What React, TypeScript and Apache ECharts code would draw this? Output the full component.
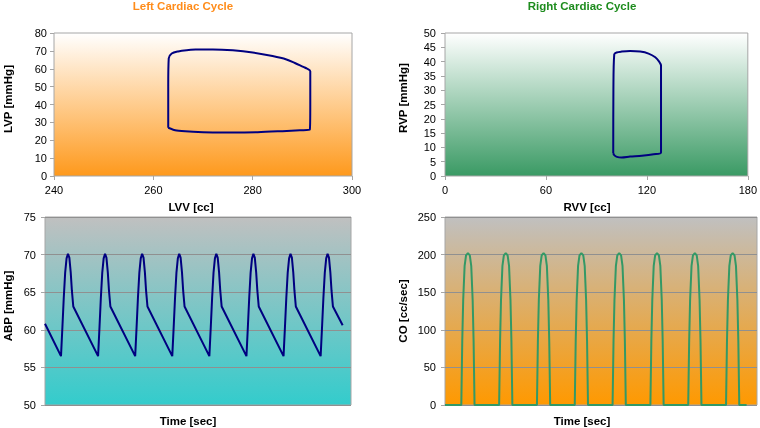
import React, { useEffect, useRef } from "react";
import * as echarts from "echarts";

// ---- Left ventricle pressure-volume loop ----
const lvVolume = [263.0, 264.7, 268, 272, 276, 281, 286, 289.5, 291.5, 291.6, 291.6, 291.0, 290.2, 288.5, 286.8, 284, 280, 276, 272, 268.5, 266.7, 265, 263.7, 263.1, 263.0, 263.0];
const lvPressure = [27.0, 25.4, 24.8, 24.4, 24.3, 24.5, 25.1, 25.6, 25.9, 40.0, 58.6, 60.0, 61.0, 63.2, 65.2, 67.1, 69.1, 70.3, 70.8, 70.7, 70.4, 69.7, 68.5, 65.8, 50.0, 27.0];

// ---- Right ventricle pressure-volume loop ----
const rvVolume = [100.0, 100.1, 100.6, 102.0, 105, 110, 116, 121, 125, 127.3, 128.4, 128.4, 128.4, 124, 117, 110, 105, 102.2, 100.6, 100.0];
const rvPressure = [8.0, 30.0, 42.5, 43.2, 43.5, 43.7, 43.5, 42.8, 41.5, 40.0, 38.6, 24.0, 8.2, 7.6, 7.1, 6.8, 6.5, 6.7, 7.3, 8.0];

// ---- Beat onsets (s) ----
const beatOnsets = [0.345, 1.145, 1.945, 2.745, 3.545, 4.345, 5.145, 5.945];

// ---- Arterial blood pressure: one beat ----
const abpStart = [0, 60.8];
const abpBeatTime = [0, 0.03, 0.06, 0.09, 0.12, 0.15, 0.18, 0.21, 0.235, 0.265];
const abpBeatValue = [56.5, 60.3, 64.3, 67.6, 69.5, 70.1, 69.6, 67.6, 65.2, 63.1];
const abpEnd = [6.42, 60.6];

// ---- Cardiac output (flow): one beat ----
const coStart = [0, 0];
const coBeatTime = [0, 0.02, 0.04, 0.07, 0.1, 0.14, 0.18, 0.21, 0.24, 0.26, 0.28];
const coBeatValue = [0, 85, 140, 185, 199, 202, 199, 185, 140, 85, 0];
const coEnd = [6.38, 0];

const FONT = "'Liberation Sans', Arial, sans-serif";

function buildTrace(start: number[], times: number[], values: number[], end: number[]) {
  const out: number[][] = [start];
  beatOnsets.forEach((t0) => {
    times.forEach((dt, i) => out.push([t0 + dt, values[i]]));
  });
  out.push(end);
  return out;
}

export default function App() {
  const ref = useRef<HTMLDivElement>(null);

  useEffect(() => {
    if (!ref.current) return;
    const chart = echarts.init(ref.current, null, { renderer: "svg" });

    const lvData = lvVolume.map((v, i) => [v, lvPressure[i]]);
    const rvData = rvVolume.map((v, i) => [v, rvPressure[i]]);
    const abpData = buildTrace(abpStart, abpBeatTime, abpBeatValue, abpEnd);
    const coData = buildTrace(coStart, coBeatTime, coBeatValue, coEnd);

    const grad = (top: string, bottom: string) =>
      new echarts.graphic.LinearGradient(0, 0, 0, 1, [
        { offset: 0, color: top },
        { offset: 1, color: bottom },
      ]);

    const gridBase = { show: true, borderColor: "#a6a6a6", borderWidth: 1 };
    const label = { fontSize: 11, color: "#000", fontFamily: FONT };
    const tick = { show: true, length: 4, lineStyle: { color: "#a6a6a6" } };
    const split = { show: true, lineStyle: { color: "#909090", width: 1 } };

    const nameText = (text: string, x: number, y: number, rotate = false, color = "#000") => ({
      type: "text",
      x,
      y,
      rotation: rotate ? Math.PI / 2 : 0,
      style: {
        text,
        fill: color,
        font: `bold 11.5px ${FONT}`,
        textAlign: "center",
        textVerticalAlign: "middle",
      },
    });

    chart.setOption({
      animation: false,
      textStyle: { fontFamily: FONT },
      grid: [
        { ...gridBase, left: 54, top: 33, width: 298, height: 143, backgroundColor: grad("#ffffff", "#fe991c") },
        { ...gridBase, left: 445, top: 33, width: 306, height: 143, backgroundColor: grad("#ffffff", "#3a9a64") },
        { ...gridBase, left: 45, top: 217, width: 306, height: 188, backgroundColor: grad("#c0c0c0", "#33cccc") },
        { ...gridBase, left: 445, top: 217, width: 312, height: 188, backgroundColor: grad("#c0c0c0", "#ff9900") },
      ],
      xAxis: [
        { gridIndex: 0, type: "value", min: 240, max: 300, interval: 20, axisLine: { show: false }, axisTick: tick, axisLabel: { ...label, margin: 8 }, splitLine: { show: false } },
        { gridIndex: 1, type: "value", min: 0, max: 180, interval: 60, axisLine: { show: false }, axisTick: tick, axisLabel: { ...label, margin: 8 }, splitLine: { show: false } },
        { gridIndex: 2, type: "value", min: 0, max: 6.6, axisLine: { show: false }, axisTick: { show: false }, axisLabel: { show: false }, splitLine: { show: false } },
        { gridIndex: 3, type: "value", min: 0, max: 6.6, axisLine: { show: false }, axisTick: { show: false }, axisLabel: { show: false }, splitLine: { show: false } },
      ],
      yAxis: [
        { gridIndex: 0, type: "value", min: 0, max: 80, interval: 10, axisLine: { show: false }, axisTick: tick, axisLabel: { ...label, margin: 7 }, splitLine: { show: false } },
        { gridIndex: 1, type: "value", min: 0, max: 50, interval: 5, axisLine: { show: false }, axisTick: tick, axisLabel: { ...label, margin: 9 }, splitLine: { show: false } },
        { gridIndex: 2, type: "value", min: 50, max: 75, interval: 5, axisLine: { show: false }, axisTick: tick, axisLabel: { ...label, margin: 9 }, splitLine: split },
        { gridIndex: 3, type: "value", min: 0, max: 250, interval: 50, axisLine: { show: false }, axisTick: tick, axisLabel: { ...label, margin: 9 }, splitLine: split },
      ],
      series: [
        { name: "LV loop", type: "line", xAxisIndex: 0, yAxisIndex: 0, data: lvData, showSymbol: false, smooth: 0.3, lineStyle: { color: "#000080", width: 2 } },
        { name: "RV loop", type: "line", xAxisIndex: 1, yAxisIndex: 1, data: rvData, showSymbol: false, smooth: 0.3, lineStyle: { color: "#000080", width: 2 } },
        { name: "ABP", type: "line", xAxisIndex: 2, yAxisIndex: 2, data: abpData, showSymbol: false, lineStyle: { color: "#000080", width: 2 } },
        { name: "CO", type: "line", xAxisIndex: 3, yAxisIndex: 3, data: coData, showSymbol: false, lineStyle: { color: "#339966", width: 2 } },
      ],
      graphic: [
        nameText("Left Cardiac Cycle", 183, 6, false, "#ff8c1a"),
        nameText("Right Cardiac Cycle", 582, 6, false, "#1e8c1e"),
        nameText("LVV [cc]", 191, 207),
        nameText("RVV [cc]", 587, 207),
        nameText("Time [sec]", 188, 421),
        nameText("Time [sec]", 582, 421),
        nameText("LVP [mmHg]", 8, 99, true),
        nameText("RVP [mmHg]", 403, 98, true),
        nameText("ABP [mmHg]", 8, 306, true),
        nameText("CO [cc/sec]", 403, 311, true),
      ],
    });

    return () => chart.dispose();
  }, []);

  return (
    <div
      ref={ref}
      style={{ position: "fixed", left: 0, top: 0, width: 760, height: 428 }}
    />
  );
}
